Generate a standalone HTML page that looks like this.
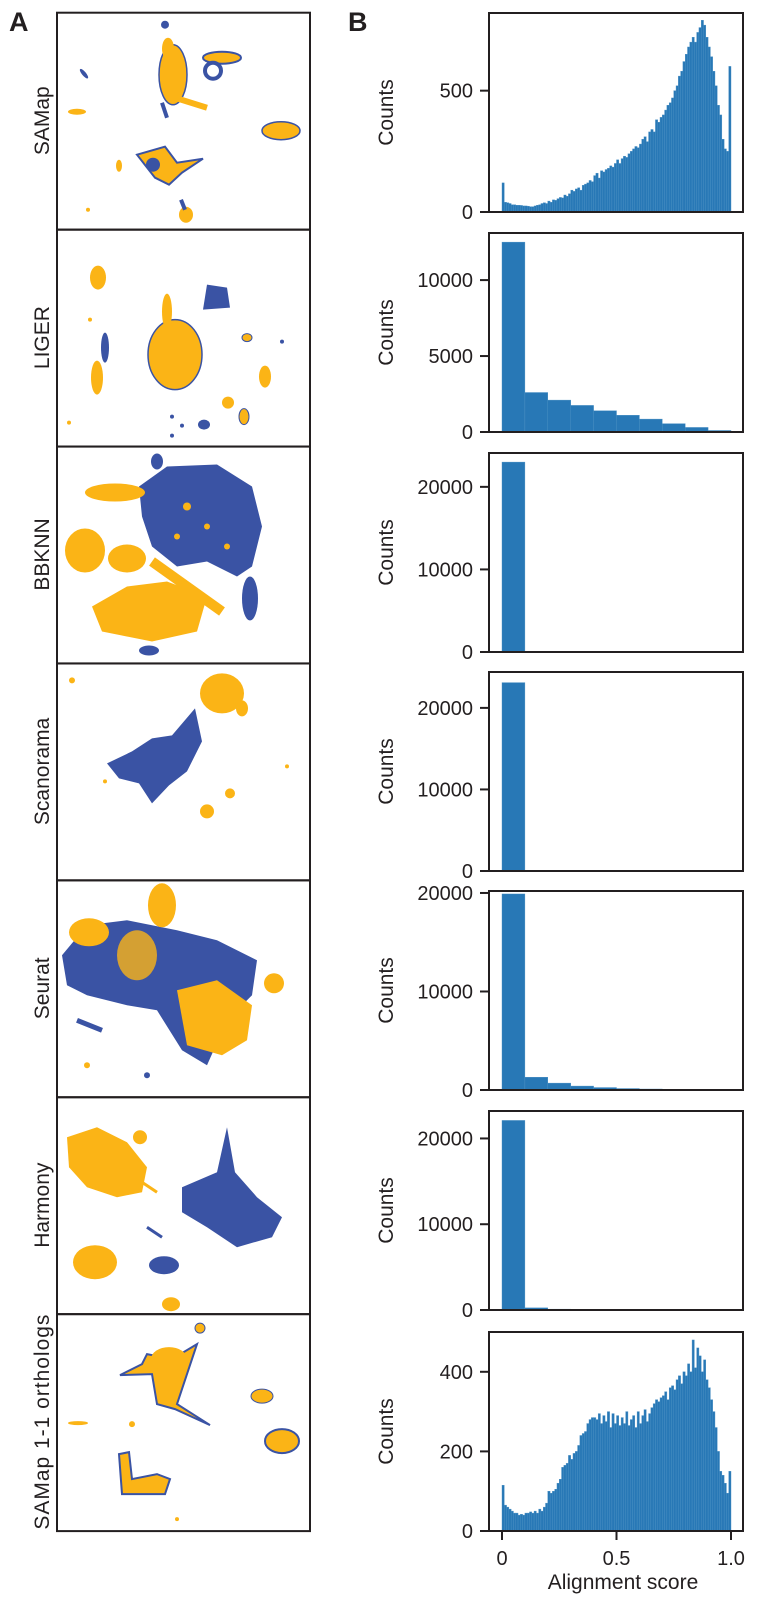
<!DOCTYPE html>
<html><head><meta charset="utf-8">
<style>
html,body{margin:0;padding:0;background:#fff;}
svg{display:block;font-family:"Liberation Sans",sans-serif;}
</style></head>
<body>
<svg id="fig" width="763" height="1605" viewBox="0 0 763 1605" xmlns="http://www.w3.org/2000/svg">
<text x="9" y="31" font-size="27" font-weight="bold" fill="#231f20">A</text>
<text x="348" y="31" font-size="27" font-weight="bold" fill="#231f20">B</text>
<g id="scatters"></g>
<g id="hists"></g>
</svg>
<script>
// ---------- histogram data ----------
const binEdgesMin = 0;
const binEdgesMax = 1;
const samapCounts = [120,40,38,35,30,30,28,28,27,25,
25,24,22,22,25,28,30,35,38,35,
45,40,50,48,55,60,58,70,65,75,
90,85,95,100,90,110,115,120,130,125,
150,160,140,170,165,175,180,190,185,200,
215,200,220,230,225,240,250,260,270,265,
280,300,310,290,330,340,330,380,370,390,
400,420,440,450,470,500,520,560,580,620,
650,680,700,720,700,740,760,790,770,720,
680,640,580,520,440,400,300,260,250,600];
const ligerCounts = [12500,2600,2100,1750,1400,1100,850,550,300,100];
const bbknnCounts = [23000,0,0,0,0,0,0,0,0,0];
const scanoramaCounts = [23100,0,0,0,0,0,0,0,0,0];
const seuratCounts = [19900,1300,700,400,250,150,100,60,30,10];
const harmonyCounts = [22100,250,100,80,0,0,0,0,0,0];
const orthologCounts = [115,65,60,55,50,45,45,40,42,40,
45,45,48,45,50,45,55,50,60,70,
100,95,100,105,120,130,160,165,170,190,
180,195,200,215,240,245,250,270,280,285,
285,280,295,270,290,275,300,260,295,270,
290,265,285,270,300,265,280,290,260,300,
270,290,305,275,295,310,320,330,325,335,
340,350,330,360,365,355,380,390,370,400,
390,420,400,480,410,460,440,400,430,380,
360,330,300,260,200,150,140,120,95,150];
const panelYMax = [820,13100,24100,24400,20200,23200,500];
const panelTicks = [[0,500],[0,5000,10000],[0,10000,20000],[0,10000,20000],[0,10000,20000],[0,10000,20000],[0,200,400]];
const xTicks = [0,0.5,1.0];
const xTickLabels = ["0","0.5","1.0"];
const methodNames = ["SAMap","LIGER","BBKNN","Scanorama","Seurat","Harmony","SAMap 1-1 orthologs"];
const allCounts = [samapCounts,ligerCounts,bbknnCounts,scanoramaCounts,seuratCounts,harmonyCounts,orthologCounts];

const NS="http://www.w3.org/2000/svg";
function mk(tag, attrs, parent){const e=document.createElementNS(NS,tag);for(const k in attrs)e.setAttribute(k,attrs[k]);if(parent)parent.appendChild(e);return e;}

const hx0=489, hx1=743, x0px=502, x1px=731;
function xScale(v){return x0px+(v-binEdgesMin)/(binEdgesMax-binEdgesMin)*(x1px-x0px);}
const panelTops=[13,233,453,672,891,1111,1332];
const ph=199;
const hists=document.getElementById('hists');
allCounts.forEach((counts,p)=>{
  const top=panelTops[p], base=top+ph;
  const yScale=v=>base-v/panelYMax[p]*ph;
  const g=mk('g',{},hists);
  
  
  const n=counts.length, w=(binEdgesMax-binEdgesMin)/n;
  counts.forEach((c,i)=>{
    if(c<=0) return;
    const xa=xScale(binEdgesMin+i*w), xb=xScale(binEdgesMin+(i+1)*w);
    const r=mk('rect',{x:xa,y:yScale(c),width:xb-xa,height:base-yScale(c),fill:'#2878b6',stroke:'#4a90c4','stroke-width':0.4},g);
    
    
  });
  const box=mk('rect',{x:hx0,y:top,width:hx1-hx0,height:ph,fill:'none',stroke:'#231f20','stroke-width':2},g);
  
  
  panelTicks[p].forEach(t=>{
    const y=yScale(t);
    mk('line',{x1:hx0-9,x2:hx0,y1:y,y2:y,stroke:'#231f20','stroke-width':2},g);
    const tx=mk('text',{x:473,y:y+7,'font-size':20,'text-anchor':'end',fill:'#231f20'},g);
    tx.textContent=String(t);
    
    
  });
  const cl=mk('text',{x:0,y:0,'font-size':21,'text-anchor':'middle',fill:'#231f20',transform:`translate(393,${top+ph/2}) rotate(-90)`},g);
  cl.textContent='Counts';
  
  
  if(p===allCounts.length-1){
    xTicks.forEach((t,i)=>{
      const x=xScale(t);
      mk('line',{x1:x,x2:x,y1:base,y2:base+9,stroke:'#231f20','stroke-width':2},g);
      const tx=mk('text',{x:x,y:base+34,'font-size':20,'text-anchor':'middle',fill:'#231f20'},g);
      tx.textContent=xTickLabels[i];
      
      
    });
    const xl=mk('text',{x:623,y:1589,'font-size':21,'text-anchor':'middle',fill:'#231f20'},g);
    xl.textContent='Alignment score';
    
    
  }
});

// ---------- embedding panels ----------
const O='#fbb416', B='#3a53a4';
const sc=document.getElementById('scatters');
const shapes=[
// SAMap
`<ellipse cx="116" cy="62" rx="14" ry="30" fill="${O}" stroke="${B}" stroke-width="1.5"/>
<ellipse cx="111" cy="36" rx="6" ry="11" fill="${O}"/>
<path d="M118 85 L150 95" stroke="${O}" stroke-width="6" fill="none"/>
<path d="M105 90 L110 105" stroke="${B}" stroke-width="4"/>
<ellipse cx="165" cy="45" rx="19" ry="6" fill="${O}" stroke="${B}" stroke-width="2"/>
<ellipse cx="156" cy="58" rx="8" ry="8" fill="none" stroke="${B}" stroke-width="4"/>
<ellipse cx="108" cy="12" rx="4" ry="4" fill="${B}"/>
<ellipse cx="20" cy="99" rx="9" ry="3" fill="${O}"/>
<ellipse cx="27" cy="61" rx="2" ry="6" fill="${B}" transform="rotate(-40 27 61)"/>
<ellipse cx="224" cy="118" rx="19" ry="9" fill="${O}" stroke="${B}" stroke-width="1.5"/>
<polygon points="80,142 108,134 120,150 146,146 125,160 112,172 98,165" fill="${O}" stroke="${B}" stroke-width="2"/>
<ellipse cx="96" cy="152" rx="7" ry="7" fill="${B}"/>
<ellipse cx="62" cy="153" rx="3" ry="6" fill="${O}"/>
<ellipse cx="129" cy="202" rx="7" ry="8" fill="${O}"/>
<path d="M124 187 L128 197" stroke="${B}" stroke-width="4"/>
<circle cx="31" cy="197" r="2" fill="${O}"/>`,
// LIGER
`<polygon points="150,55 170,58 173,78 146,80" fill="${B}"/>
<ellipse cx="118" cy="125" rx="27" ry="35" fill="${O}" stroke="${B}" stroke-width="1.5"/>
<ellipse cx="110" cy="82" rx="5" ry="18" fill="${O}"/>
<ellipse cx="48" cy="118" rx="4" ry="15" fill="${B}"/>
<ellipse cx="40" cy="148" rx="6" ry="17" fill="${O}"/>
<ellipse cx="41" cy="48" rx="8" ry="12" fill="${O}"/>
<ellipse cx="208" cy="147" rx="6" ry="11" fill="${O}"/>
<ellipse cx="190" cy="108" rx="5" ry="4" fill="${O}" stroke="${B}"/>
<ellipse cx="171" cy="173" rx="6" ry="6" fill="${O}"/>
<ellipse cx="187" cy="187" rx="5" ry="8" fill="${O}" stroke="${B}"/>
<ellipse cx="147" cy="195" rx="6" ry="5" fill="${B}"/>
<circle cx="125" cy="196" r="2" fill="${B}"/><circle cx="115" cy="187" r="2" fill="${B}"/>
<circle cx="115" cy="206" r="2" fill="${B}"/><circle cx="12" cy="193" r="2" fill="${O}"/>
<circle cx="33" cy="90" r="2" fill="${O}"/><circle cx="225" cy="112" r="2" fill="${B}"/>`,
// BBKNN
`<polygon points="82,40 110,20 160,18 195,40 205,80 195,120 180,130 150,115 120,120 95,100 85,70" fill="${B}"/>
<ellipse cx="28" cy="104" rx="20" ry="22" fill="${O}"/>
<ellipse cx="70" cy="112" rx="19" ry="14" fill="${O}"/>
<ellipse cx="58" cy="46" rx="30" ry="9" fill="${O}"/>
<polygon points="35,160 70,140 110,135 150,150 140,185 95,195 45,185" fill="${O}"/>
<path d="M95 115 L165 165" stroke="${O}" stroke-width="10" fill="none"/>
<ellipse cx="92" cy="204" rx="10" ry="5" fill="${B}"/>
<ellipse cx="193" cy="152" rx="8" ry="22" fill="${B}"/>
<ellipse cx="100" cy="15" rx="6" ry="8" fill="${B}"/>
<circle cx="130" cy="60" r="4" fill="${O}"/><circle cx="150" cy="80" r="3" fill="${O}"/>
<circle cx="170" cy="100" r="3" fill="${O}"/><circle cx="120" cy="90" r="3" fill="${O}"/>`,
// Scanorama
`<polygon points="50,100 75,88 95,75 115,72 138,45 145,78 130,108 112,122 95,140 82,120 62,115" fill="${B}"/>
<ellipse cx="165" cy="30" rx="22" ry="20" fill="${O}"/>
<ellipse cx="185" cy="45" rx="6" ry="8" fill="${O}"/>
<ellipse cx="173" cy="130" rx="5" ry="5" fill="${O}"/>
<ellipse cx="150" cy="148" rx="7" ry="7" fill="${O}"/>
<circle cx="15" cy="17" r="3" fill="${O}"/><circle cx="230" cy="103" r="2" fill="${O}"/>
<circle cx="48" cy="118" r="2" fill="${O}"/>`,
// Seurat
`<polygon points="5,75 30,45 70,40 120,50 160,60 200,80 195,115 170,140 150,185 125,170 100,130 70,125 30,115 10,105" fill="${B}"/>
<ellipse cx="105" cy="25" rx="14" ry="22" fill="${O}"/>
<ellipse cx="217" cy="103" rx="10" ry="10" fill="${O}"/>
<polygon points="120,110 160,100 195,125 190,160 165,175 130,165" fill="${O}"/>
<ellipse cx="32" cy="52" rx="20" ry="14" fill="${O}"/>
<ellipse cx="80" cy="75" rx="20" ry="25" fill="${O}" opacity="0.8"/>
<path d="M20 140 L45 150" stroke="${B}" stroke-width="5"/>
<circle cx="30" cy="185" r="3" fill="${O}"/><circle cx="90" cy="195" r="3" fill="${B}"/>`,
// Harmony
`<polygon points="10,40 40,30 70,45 90,70 85,95 60,100 30,90 12,70" fill="${O}"/>
<ellipse cx="38" cy="165" rx="22" ry="17" fill="${O}"/>
<polygon points="125,90 160,75 170,30 178,75 200,100 225,120 215,140 180,150 150,130 125,115" fill="${B}"/>
<ellipse cx="107" cy="168" rx="15" ry="9" fill="${B}"/>
<ellipse cx="114" cy="207" rx="9" ry="7" fill="${O}"/>
<ellipse cx="83" cy="40" rx="7" ry="7" fill="${O}"/>
<path d="M85 85 L100 95" stroke="${O}" stroke-width="3"/><path d="M90 130 L105 140" stroke="${B}" stroke-width="3"/>`,
// SAMap 1-1 orthologs
`<polygon points="90,40 115,45 140,30 130,60 120,90 153,111 118,95 100,90 95,60 63,61 85,50" fill="${O}" stroke="${B}" stroke-width="2"/>
<ellipse cx="112" cy="45" rx="18" ry="12" fill="${O}"/>
<ellipse cx="205" cy="82" rx="11" ry="7" fill="${O}" stroke="${B}"/>
<ellipse cx="225" cy="127" rx="17" ry="12" fill="${O}" stroke="${B}" stroke-width="2"/>
<polygon points="62,140 72,138 75,165 100,160 113,165 108,180 65,180" fill="${O}" stroke="${B}" stroke-width="2"/>
<ellipse cx="143" cy="14" rx="5" ry="5" fill="${O}" stroke="${B}"/>
<ellipse cx="21" cy="109" rx="10" ry="2" fill="${O}"/>
<circle cx="120" cy="205" r="2" fill="${O}"/><circle cx="75" cy="110" r="3" fill="${O}"/>`
];
const boxTops=[12.7,229.6,446.5,663.4,880.3,1097.2,1314.1];
shapes.forEach((s,i)=>{
  const g=mk('g',{transform:`translate(57,${boxTops[i]})`},sc);
  
  
  g.innerHTML=s;
  const r=mk('rect',{x:0,y:0,width:253,height:217,fill:'none',stroke:'#231f20','stroke-width':2},g);
  
  
  const t=mk('text',{x:0,y:0,'font-size':21,'text-anchor':'middle',fill:'#231f20',transform:`translate(${-8},108) rotate(-90)`},g);
  if(i===6) t.setAttribute('textLength','215');
  t.textContent=methodNames[i];
  
  
});
</script>
</body></html>
